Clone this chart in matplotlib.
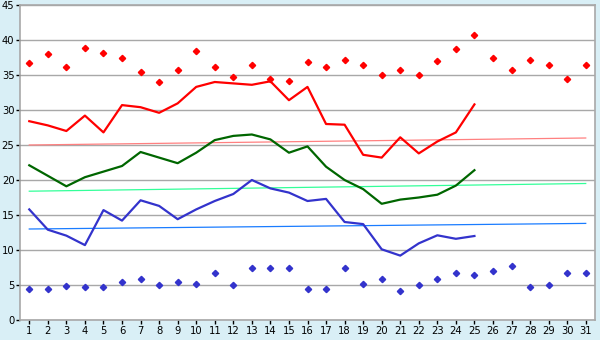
import numpy as np
import matplotlib
matplotlib.use('Agg')
import matplotlib.pyplot as plt


# ---- data --------------------------------------------------------------
days = list(range(1, 32))

max_pts = [36.7, 38.0, 36.2, 38.8, 38.1, 37.4, 35.4, 34.0, 35.7, 38.4,
           36.2, 34.7, 36.5, 34.4, 34.1, 36.8, 36.1, 37.1, 36.4, 35.0,
           35.7, 35.0, 37.0, 38.7, 40.7, 37.5, 35.7, 37.2, 36.4, 34.5, 36.5]

min_pts = [4.4, 4.4, 4.8, 4.7, 4.7, 5.4, 5.8, 4.95, 5.4, 5.2,
           6.7, 4.95, 7.4, 7.4, 7.5, 4.5, 4.4, 7.5, 5.1, 5.8,
           4.2, 4.95, 5.8, 6.7, 6.4, 6.95, 7.7, 4.7, 4.95, 6.7, 6.7]

max_line = [28.4, 27.8, 27.0, 29.2, 26.8, 30.7, 30.4, 29.6, 30.95, 33.3,
            34.0, 33.8, 33.6, 34.1, 31.4, 33.3, 28.0, 27.9, 23.6, 23.2,
            26.1, 23.8, 25.5, 26.8, 30.8]

mean_line = [22.1, 20.6, 19.1, 20.4, 21.2, 22.0, 24.0, 23.2, 22.4, 23.9,
             25.7, 26.3, 26.5, 25.8, 23.9, 24.8, 21.9, 20.0, 18.7, 16.6,
             17.2, 17.5, 17.9, 19.2, 21.4]

min_line = [15.8, 12.9, 12.05, 10.7, 15.7, 14.2, 17.1, 16.3, 14.4, 15.8,
            17.0, 18.0, 20.0, 18.8, 18.2, 17.0, 17.3, 14.0, 13.7, 10.1,
            9.2, 10.95, 12.1, 11.6, 12.0]

# trend lines: value at day 1 and day 31
max_trend = [25.0, 26.0]
mean_trend = [18.4, 19.5]
min_trend = [13.0, 13.8]


def main():
    fig = plt.figure(figsize=(6.0, 3.4), dpi=100, facecolor='#d9eff6')
    ax = fig.add_axes([20 / 600, 20 / 340, 575 / 600, 315 / 340])
    ax.set_facecolor('white')

    line_days = days[:len(max_line)]
    ends = [days[0], days[-1]]

    # trends
    ax.plot(ends, max_trend, color='#ff8080', lw=0.9)
    ax.plot(ends, mean_trend, color='#33ff99', lw=0.9)
    ax.plot(ends, min_trend, color='#1a7cff', lw=0.9)

    # daily lines
    ax.plot(line_days, max_line, color='#ff0000', lw=1.6)
    ax.plot(line_days, mean_line, color='#006600', lw=1.6)
    ax.plot(line_days, min_line, color='#3333cc', lw=1.6)

    # extremes
    ax.plot(days, max_pts, ls='none', marker='D', ms=3.2, color='#ff0000')
    ax.plot(days, min_pts, ls='none', marker='D', ms=3.2, color='#3333cc')

    ax.set_xlim(0.5, 31.5)
    ax.set_ylim(0, 45)
    ax.set_xticks(days)
    ax.set_yticks(np.arange(0, 46, 5))
    ax.yaxis.grid(True, color='#a8a8a8', lw=1.0)
    ax.set_axisbelow(True)

    for sp in ax.spines.values():
        sp.set_color('#a8a8a8')
        sp.set_linewidth(1.2)

    ax.tick_params(axis='both', direction='out', length=3, width=1,
                   color='black', labelsize=7.2, pad=1)

    fig.savefig('out.png', dpi=100, facecolor=fig.get_facecolor())


if __name__ == '__main__':
    main()
